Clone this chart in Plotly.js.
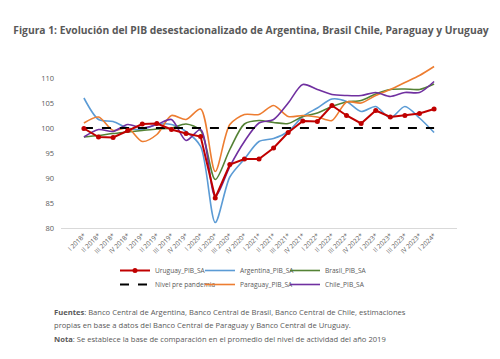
<!DOCTYPE html>
<html>
<head>
<meta charset="utf-8">
<script src="https://cdn.plot.ly/plotly-3.0.1.min.js"></script>
<style>html,body{margin:0;padding:0;background:#fff;}#chart{width:500px;height:359px;}</style>
</head>
<body>
<div id="chart"></div>
<script>
var quarters = ["I 2018*","II 2018*","III 2018*","IV 2018*","I 2019*","II 2019*","III 2019*","IV 2019*",
  "I 2020*","II 2020*","III 2020*","IV 2020*","I 2021*","II 2021*","III 2021*","IV 2021*",
  "I 2022*","II 2022*","III 2022*","IV 2022*","I 2023*","II 2023*","III 2023*","IV 2023*","I 2024*"];

var uruguay   = [99.9,98.2,98.1,99.5,100.8,100.9,99.7,98.9,98.3,86.0,92.7,93.8,93.8,96.0,99.1,101.4,101.3,104.5,102.5,100.9,103.5,102.2,102.5,102.9,103.8];
var argentina = [106.0,101.7,101.3,100.0,99.7,100.7,100.7,99.3,96.3,81.1,90.2,93.8,97.3,97.9,99.3,102.3,104.0,105.8,105.3,103.3,104.3,102.0,104.3,102.0,99.1];
var brasil    = [98.2,98.5,98.9,99.2,99.5,99.8,100.0,100.8,99.5,89.7,95.7,100.8,101.5,101.1,100.9,102.3,103.0,104.3,105.2,105.5,106.8,107.7,107.8,107.7,108.8];
var paraguay  = [101.0,102.2,99.5,100.0,97.3,98.7,102.5,101.7,103.8,91.3,100.7,102.7,102.7,104.5,102.3,102.5,102.2,101.5,105.2,105.0,106.5,107.7,109.1,110.5,112.3];
var chile     = [98.2,99.7,99.3,100.7,100.0,100.7,101.7,97.5,99.7,86.3,92.3,97.3,101.0,101.7,105.0,108.7,107.7,106.7,106.5,106.5,107.1,106.3,107.1,107.1,109.3];
var prePandemia = [100,100,100,100,100,100,100,100,100,100,100,100,100,100,100,100,100,100,100,100,100,100,100,100,100];

var gray = "#595959";
var FONT = "Open Sans, Liberation Sans, sans-serif";

function smooth(name, y, color, rank, leg) {
  return {x: quarters, y: y, name: name, type: "scatter", mode: "lines",
    line: {color: color, width: 1.6, shape: "spline", smoothing: 0.8},
    legendrank: rank, legend: leg, hoverinfo: "skip"};
}

var data = [
  smooth("Argentina_PIB_SA", argentina, "#5B9BD5", 2, "legend"),
  smooth("Brasil_PIB_SA", brasil, "#548235", 3, "legend"),
  smooth("Paraguay_PIB_SA", paraguay, "#ED7D31", 5, "legend2"),
  smooth("Chile_PIB_SA", chile, "#7030A0", 6, "legend2"),
  {x: quarters, y: prePandemia, name: "Nivel pre pandemia", type: "scatter", mode: "lines",
    line: {color: "#000000", width: 1.8, dash: "dash"}, legendrank: 4, legend: "legend2", hoverinfo: "skip"},
  {x: quarters, y: uruguay, name: "Uruguay_PIB_SA", type: "scatter", mode: "lines+markers",
    line: {color: "#C00000", width: 2}, marker: {color: "#C00000", size: 5},
    legendrank: 1, legend: "legend", hoverinfo: "skip"}
];

var T = 63, H = 165;
function py(p) { return 1 - (p - T) / H; }

var legCommon = {orientation: "h", xanchor: "left", yanchor: "top", entrywidth: 40, entrywidthmode: "pixels",
  font: {family: FONT, size: 6.6, color: gray}, bgcolor: "rgba(0,0,0,0)", traceorder: "normal"};

var layout = {
  width: 500, height: 359,
  margin: {l: 61, r: 43, t: T, b: 359 - T - H},
  paper_bgcolor: "#ffffff", plot_bgcolor: "#ffffff",
  title: {text: "<b>Figura 1: Evolución del PIB desestacionalizado de Argentina, Brasil Chile, Paraguay y Uruguay</b>",
    font: {family: FONT, size: 10.3, color: gray}, xref: "container", x: 0.502, yref: "container", y: 1 - 30/359, yanchor: "middle"},
  xaxis: {type: "category", tickangle: -45, showgrid: false, zeroline: false, showline: true, linecolor: "#d9d9d9", linewidth: 1,
    ticks: "", tickfont: {family: FONT, size: 6.5, color: gray}, fixedrange: true},
  yaxis: {range: [80, 113], tickvals: [80, 85, 90, 95, 100, 105, 110], showgrid: false, zeroline: false, showline: false, ticks: "",
    tickfont: {family: FONT, size: 7.5, color: gray}, ticklabelstandoff: 6, fixedrange: true},
  showlegend: true,
  legend: Object.assign({x: (115-61)/396, y: py(256)}, legCommon),
  legend2: Object.assign({x: (115-61)/396, y: py(270)}, legCommon),
  annotations: [
    {text: "<b>Fuentes</b>: Banco Central de Argentina, Banco Central de Brasil, Banco Central de Chile, estimaciones",
     xref: "paper", yref: "paper", x: (52-61)/396, y: py(312), xanchor: "left", yanchor: "middle", showarrow: false,
     font: {family: FONT, size: 7.6, color: gray}},
    {text: "propias en base a datos del Banco Central de Paraguay y Banco Central de Uruguay.",
     xref: "paper", yref: "paper", x: (52-61)/396, y: py(325), xanchor: "left", yanchor: "middle", showarrow: false,
     font: {family: FONT, size: 7.6, color: gray}},
    {text: "<b>Nota</b>: Se establece la base de comparación en el promedio del nivel de actividad del año 2019",
     xref: "paper", yref: "paper", x: (52-61)/396, y: py(339), xanchor: "left", yanchor: "middle", showarrow: false,
     font: {family: FONT, size: 7.6, color: gray}}
  ]
};

Plotly.newPlot("chart", data, layout, {displayModeBar: false, staticPlot: true});
</script>
</body>
</html>
